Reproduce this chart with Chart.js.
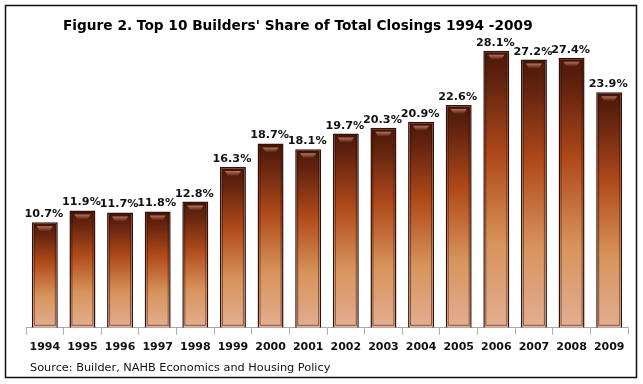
<!DOCTYPE html>
<html>
<head>
<meta charset="utf-8">
<script src="https://cdn.jsdelivr.net/npm/chart.js@4/dist/chart.umd.min.js"></script>
<style>
html,body{margin:0;padding:0;background:#fff;}
#wrap{position:relative;width:643px;height:384px;}
</style>
</head>
<body>
<div id="wrap"><canvas id="c" width="643" height="384"></canvas></div>
<script>
const titleText = "Figure 2. Top 10 Builders' Share of Total Closings 1994 -2009";
const sourceText = "Source: Builder, NAHB Economics and Housing Policy";
const years = ["1994","1995","1996","1997","1998","1999","2000","2001","2002","2003","2004","2005","2006","2007","2008","2009"];
const shares = [10.7, 11.9, 11.7, 11.8, 12.8, 16.3, 18.7, 18.1, 19.7, 20.3, 20.9, 22.6, 28.1, 27.2, 27.4, 23.9];

const FONT = "'DejaVu Sans', Verdana, sans-serif";

function barGradient(ctx) {
  const chart = ctx.chart;
  const area = chart.chartArea;
  if (!area || ctx.raw === undefined) return '#a0461a';
  const y = chart.scales.y;
  const top = y.getPixelForValue(ctx.raw);
  const bottom = y.getPixelForValue(0);
  const g = chart.ctx.createLinearGradient(0, top, 0, bottom);
  g.addColorStop(0, '#4a180a');
  g.addColorStop(0.12, '#66240f');
  g.addColorStop(0.38, '#b04a1a');
  g.addColorStop(0.7, '#d8945c');
  g.addColorStop(1, '#e2ae92');
  return g;
}

const decor = {
  id: 'decor',
  afterDatasetsDraw(chart) {
    const c = chart.ctx;
    const meta = chart.getDatasetMeta(0);
    c.save();
    meta.data.forEach((bar, i) => {
      const w = bar.width;
      const left = bar.x - w / 2;
      const top = bar.y;
      const bottom = bar.base;
      c.strokeStyle = 'rgba(40,12,4,0.5)';
      c.lineWidth = 1;
      c.strokeRect(left + 2.5, top + 2.5, w - 5, bottom - top - 5);
      const hg = c.createLinearGradient(0, top + 3, 0, top + 9);
      hg.addColorStop(0, 'rgba(230,150,120,0.85)');
      hg.addColorStop(1, 'rgba(230,150,120,0)');
      c.fillStyle = hg;
      c.beginPath();
      c.moveTo(left + 5, top + 4);
      c.lineTo(left + w - 5, top + 4);
      c.lineTo(left + w - 8, top + 9);
      c.lineTo(left + 8, top + 9);
      c.closePath();
      c.fill();
      c.fillStyle = '#111';
      c.font = "bold 11.2px " + FONT;
      c.textAlign = 'center';
      c.textBaseline = 'alphabetic';
      c.fillText(shares[i].toFixed(1) + '%', bar.x - 1, top - 5);
    });
    c.restore();
  },
  afterDraw(chart) {
    const c = chart.ctx;
    c.save();
    c.strokeStyle = '#111';
    c.lineWidth = 1.5;
    c.strokeRect(5.5, 5.5, 631, 372);
    c.fillStyle = '#000';
    c.font = "bold 13.7px " + FONT;
    c.textAlign = 'left';
    c.textBaseline = 'middle';
    c.fillText(titleText, 63, 26);
    c.font = "11.3px " + FONT;
    c.fillStyle = '#111';
    c.fillText(sourceText, 30, 368);
    c.restore();
  }
};

new Chart(document.getElementById('c'), {
  type: 'bar',
  data: {
    labels: years,
    datasets: [{
      data: shares,
      backgroundColor: barGradient,
      borderColor: '#33100a',
      borderWidth: 1.5,
      categoryPercentage: 1,
      barPercentage: 0.69
    }]
  },
  options: {
    responsive: false,
    animation: false,
    events: [],
    layout: { padding: { left: 26, right: 15, top: 32, bottom: 24 } },
    plugins: { legend: { display: false }, title: { display: false }, tooltip: { enabled: false } },
    scales: {
      y: { display: false, min: 0, max: 30 },
      x: {
        grid: { drawOnChartArea: false, drawTicks: true, tickLength: 7, color: '#b0b0b0' },
        border: { display: true, color: '#a8a8a8', width: 1 },
        ticks: { color: '#111', font: { family: FONT, weight: 'bold', size: 11 }, padding: 6, maxRotation: 0, autoSkip: false }
      }
    }
  },
  plugins: [decor]
});
</script>
</body>
</html>
